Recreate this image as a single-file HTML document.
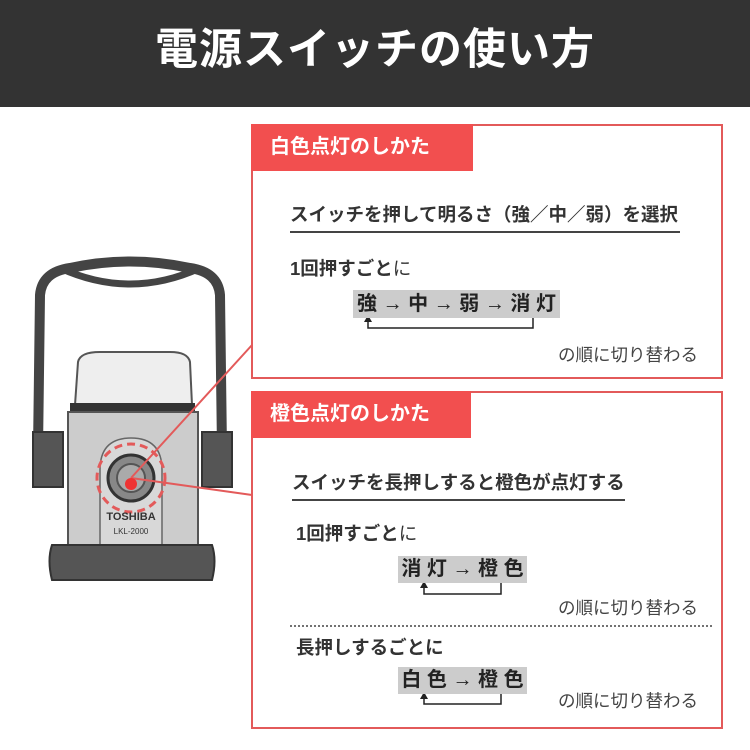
<!DOCTYPE html><html><head><meta charset="utf-8"><style>
body{margin:0;width:750px;height:750px;background:#fff;position:relative;overflow:hidden;font-family:"Liberation Sans","Noto Sans CJK JP",sans-serif;color:#333}
.hd{position:absolute;left:0;top:0;width:750px;height:107px;background:#333;color:#fff;font-size:43px;font-weight:bold;text-align:center;line-height:100px;letter-spacing:1px}
.box{position:absolute;border:2px solid #e35a5a;box-sizing:border-box}
.tab{position:absolute;left:-2px;top:-2px;background:#f24f4f;color:#fff;font-weight:bold;font-size:20px;line-height:46px;padding-left:19px;box-sizing:border-box}
.t{position:absolute;white-space:nowrap;font-weight:bold;font-size:18.5px;color:#333}
.n{font-weight:normal}
.g{position:absolute;background:#ccc;font-weight:bold;font-size:20px;color:#222;text-align:center;white-space:nowrap}
.r{position:absolute;white-space:nowrap;font-size:17.5px;color:#444;text-align:right}
</style></head><body>
<div class="hd">電源スイッチの使い方</div>
<svg style="position:absolute;left:0;top:0" width="750" height="750">
<path d="M38 450 L40 295 Q42 272 70 268 Q130 255 190 268 Q218 272 220 295 L222 450" fill="none" stroke="#444" stroke-width="10" stroke-linejoin="round"/>
<path d="M60 268 Q130 300 200 268" fill="none" stroke="#444" stroke-width="7"/>
<path d="M75 405 L78 362 Q80 352 100 352 L170 352 Q188 352 190 362 L192 405 Z" fill="#eee" stroke="#555" stroke-width="2"/>
<rect x="70" y="403" width="125" height="10" fill="#333"/>
<path d="M68 412 L198 412 L198 545 L68 545 Z" fill="#ccc" stroke="#555" stroke-width="2"/>
<path d="M100 545 L100 470 Q100 438 131 438 Q162 438 162 470 L162 545" fill="#d8d8d8" stroke="#666" stroke-width="1.5"/>
<rect x="33" y="432" width="30" height="55" fill="#555" stroke="#333" stroke-width="2"/>
<rect x="202" y="432" width="30" height="55" fill="#555" stroke="#333" stroke-width="2"/>
<path d="M52 545 L212 545 Q217 560 212 580 L52 580 Q47 560 52 545Z" fill="#555" stroke="#333" stroke-width="2"/>
<circle cx="131" cy="478" r="23" fill="#888" stroke="#333" stroke-width="3"/>
<circle cx="131" cy="478" r="14" fill="#aaa" stroke="#555" stroke-width="2"/>
<circle cx="131" cy="478" r="34" fill="none" stroke="#e35a5a" stroke-width="3" stroke-dasharray="8 5"/>
<text x="131" y="520" font-size="11" font-weight="bold" text-anchor="middle" fill="#333" font-family="Liberation Sans">TOSHIBA</text>
<text x="131" y="534" font-size="8" text-anchor="middle" fill="#333" font-family="Liberation Sans">LKL-2000</text>
<line x1="131" y1="478" x2="252" y2="345" stroke="#e35a5a" stroke-width="2"/>
<line x1="131" y1="478" x2="252" y2="495" stroke="#e35a5a" stroke-width="2"/>
<circle cx="131" cy="484" r="6" fill="#e33"/>
<g fill="none" stroke="#222" stroke-width="1.5">
<path d="M533 318 V328 H368 V320"/><path d="M501 583 V594 H424 V586"/><path d="M501 694 V704 H424 V697"/></g>
<g fill="#222"><path d="M364 322 L368 315 L372 322Z"/><path d="M420 588 L424 581 L428 588Z"/><path d="M420 699 L424 692 L428 699Z"/></g>
<line x1="290" y1="626" x2="712" y2="626" stroke="#444" stroke-width="1.5" stroke-dasharray="2 2"/>
</svg>
<div class="box" style="left:251px;top:124px;width:472px;height:255px"><div class="tab" style="width:222px;height:47px">白色点灯のしかた</div></div>
<div class="t" style="left:290px;top:201px;border-bottom:2px solid #444;padding-bottom:4px;width:390px">スイッチを押して明るさ（強／中／弱）を選択</div>
<div class="t" style="left:290px;top:255px">1回押すごと<span class="n">に</span></div>
<div class="g" style="left:353px;top:290px;width:207px;height:28px;line-height:28px">強 → 中 → 弱 → 消 灯</div>
<div class="r" style="right:52px;top:342px">の順に切り替わる</div>
<div class="box" style="left:251px;top:391px;width:472px;height:338px"><div class="tab" style="width:220px;height:47px">橙色点灯のしかた</div></div>
<div class="t" style="left:292px;top:469px;border-bottom:2px solid #444;padding-bottom:4px;width:333px">スイッチを長押しすると橙色が点灯する</div>
<div class="t" style="left:296px;top:520px">1回押すごと<span class="n">に</span></div>
<div class="g" style="left:398px;top:556px;width:129px;height:27px;line-height:27px">消 灯 → 橙 色</div>
<div class="r" style="right:52px;top:595px">の順に切り替わる</div>
<div class="t" style="left:296px;top:634px">長押しするごとに</div>
<div class="g" style="left:398px;top:667px;width:129px;height:27px;line-height:27px">白 色 → 橙 色</div>
<div class="r" style="right:52px;top:688px">の順に切り替わる</div>
</body></html>
